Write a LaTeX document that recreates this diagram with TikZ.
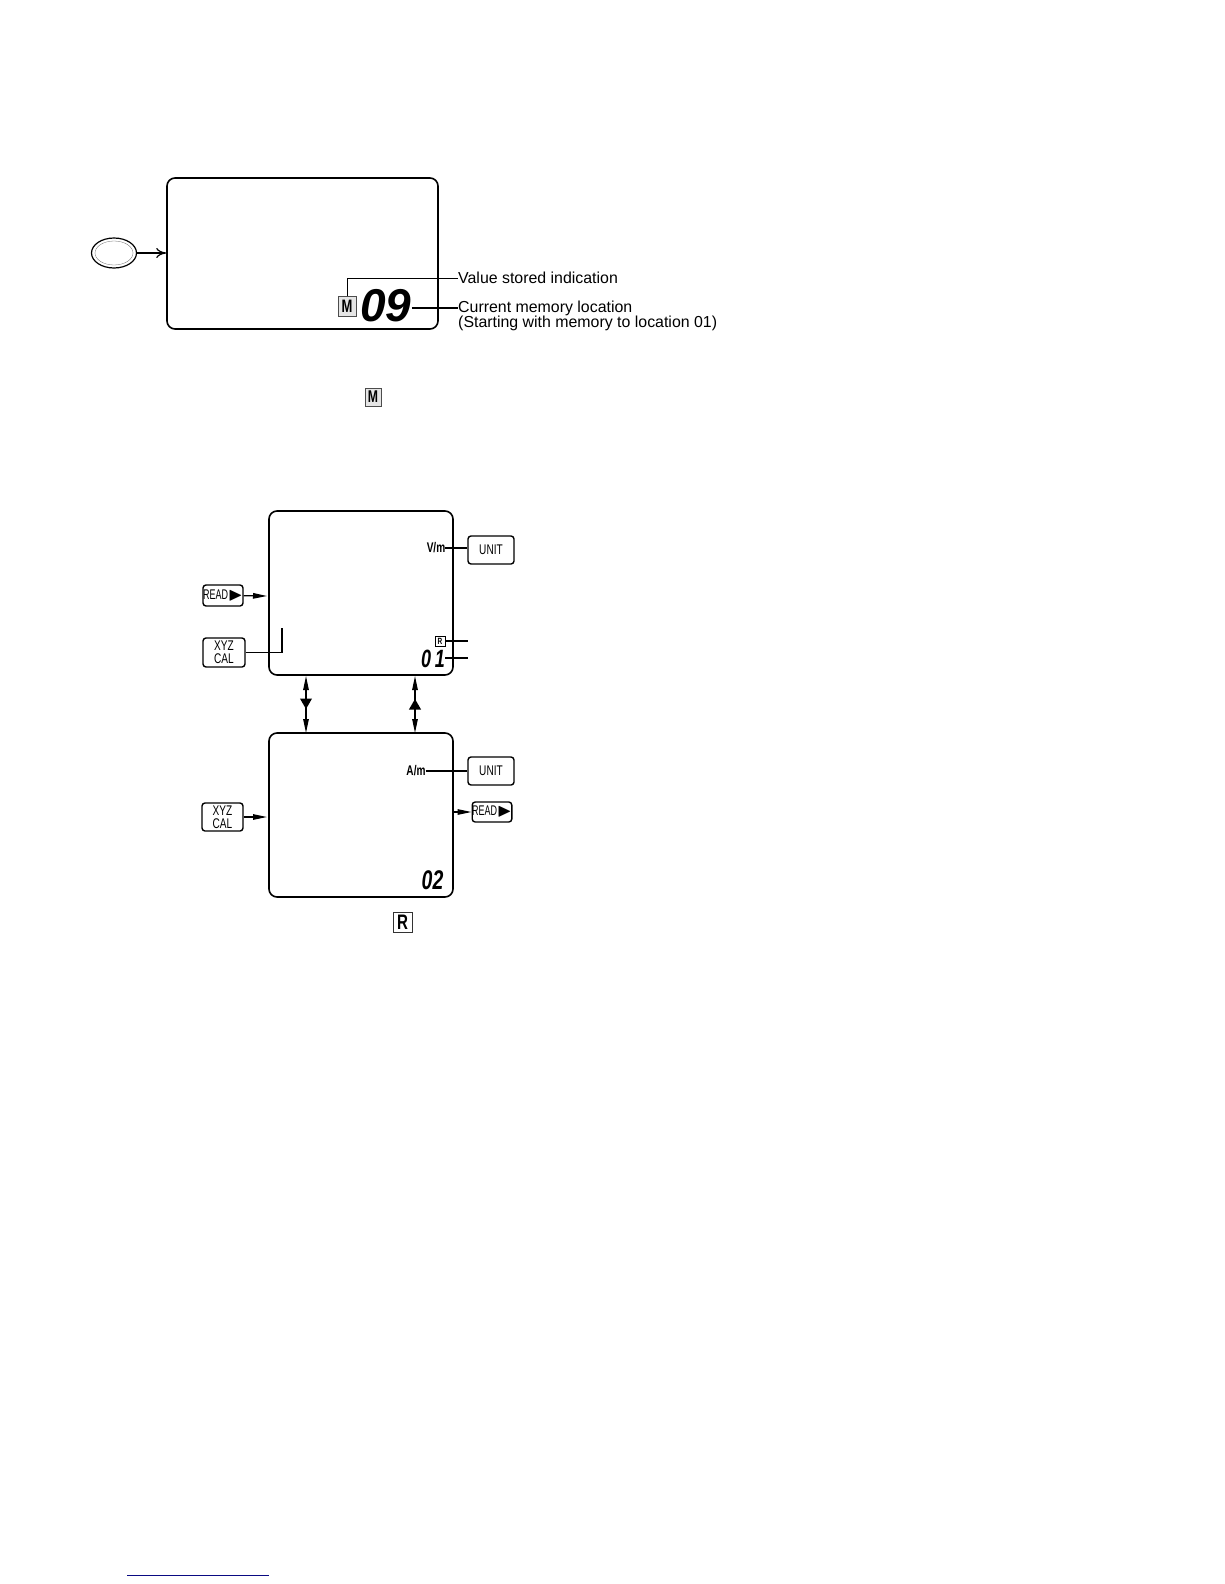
\documentclass[tikz,border=0pt]{standalone}
\usepackage{amssymb}
\usepackage{fontspec}
\setmainfont{Liberation Sans}
\usetikzlibrary{arrows.meta,shapes.geometric}
\newcommand{\narrowtxt}[1]{\scalebox{.72}[1]{#1}}
\newcommand{\readlabel}{\scalebox{.64}[1]{READ}\raisebox{-1pt}{\scalebox{1.35}{$\blacktriangleright$}}}
\definecolor{rulecol}{RGB}{10,10,130}
\tikzset{
  lcd/.style={draw,line width=1.6pt,rounded corners=8pt,inner sep=0pt},
  keybox/.style={draw,line width=1.4pt,rounded corners=3pt,inner sep=0pt,align=center,font=\fontsize{14}{13}\selectfont},
  lead/.style={line width=1.2pt},
  flag/.style={draw,line width=.8pt,inner sep=0pt,font=\bfseries},
  lcdnum/.style={inner sep=0pt,font=\bfseries\itshape},
  unitsign/.style={inner sep=0pt,font=\bfseries\fontsize{14}{14}\selectfont},
  note/.style={anchor=west,align=left,inner sep=0pt,font=\fontsize{15.9}{15}\selectfont},
  tridown/.style={regular polygon,regular polygon sides=3,shape border rotate=180,fill=black,inner sep=0pt,minimum size=14},
  triup/.style={regular polygon,regular polygon sides=3,fill=black,inner sep=0pt,minimum size=14}
}
\begin{document}
\begin{tikzpicture}[x=1pt,y=-1pt,>={Triangle[length=14pt,width=5.5pt]}]
\useasboundingbox (0,0) rectangle (1224,1584);
% top display
\node[lcd,minimum width=271,minimum height=151] (lcdtop) at (302.5,253.5) {};
\node[draw,ellipse,line width=1.2pt,minimum width=45,minimum height=30,inner sep=0pt] (oval) at (114,253) {};
\node[draw,ellipse,line width=.3pt,black!60,minimum width=38,minimum height=24,inner sep=0pt] (ovalin) at (114,253) {};
\draw[lead,-{To[length=10pt,width=10pt]}] (oval) -- (lcdtop.west |- oval);
\node[flag,fill=black!10,draw=black!70,minimum width=18,minimum height=20,font=\bfseries\fontsize{18}{18}\selectfont] (flagm) at (347,306) {\narrowtxt{M}};
\node[lcdnum,font=\bfseries\itshape\fontsize{46}{46}\selectfont] (digitsa) at (386,306) {09};
\node[note] (stored) at (458,278) {Value stored indication};
\node[note] (current) at (458,308) {Current memory location};
\node[note] (startwith) at (458,323) {(Starting with memory to location 01)};
\draw[line width=.8pt] (flagm.north) -- (flagm.north |- stored) -- (stored.west);
\draw[lead] (digitsa.east |- current) -- (current.west);
\node[flag,draw=black!70,fill=black!10,minimum width=16,minimum height=18,font=\bfseries\fontsize{17}{17}\selectfont] (flagn) at (373,397) {\narrowtxt{M}};
% upper display
\node[lcd,minimum width=184,minimum height=164] (lcdvm) at (361,593) {};
\node[unitsign] (vm) at (436,548) {\narrowtxt{V/m}};
\node[keybox,minimum width=46,minimum height=28] (unita) at (491,550) {\narrowtxt{UNIT}};
\draw[lead] (vm) -- (vm -| unita.west);
\node[keybox,minimum width=40,minimum height=21] (reada) at (223,595.5) {\readlabel};
\coordinate (readatip) at (267,596);
\draw[lead,->] (reada) -- (readatip);
\node[keybox,minimum width=42,minimum height=29] (xyza) at (224,652.5) {\narrowtxt{XYZ}\\\narrowtxt{CAL}};
\coordinate (xyzaup) at (282,628);
\draw[lead] (xyza.east) -| (xyzaup);
\node[flag,draw=black,minimum width=10,minimum height=10,font=\bfseries\fontsize{9}{9}\selectfont] (flagr) at (440,641) {\narrowtxt{R}};
\node[lcdnum,font=\bfseries\itshape\fontsize{25}{25}\selectfont] (digitsb) at (433,659) {\narrowtxt{0\hspace{5pt}1}};
\coordinate (flagrend) at (468,641);
\coordinate (digitsbend) at (468,658);
\draw[lead] (flagr) -- (flagrend);
\draw[lead] (digitsb.east |- digitsbend) -- (digitsbend);
% lower display
\node[lcd,minimum width=184,minimum height=164] (lcdam) at (361,815) {};
\node[unitsign] (am) at (416,771) {\narrowtxt{A/m}};
\node[keybox,minimum width=46,minimum height=28] (unitb) at (491,771) {\narrowtxt{UNIT}};
\draw[lead] (am) -- (unitb);
\node[keybox,minimum width=41,minimum height=28] (xyzb) at (222.5,817) {\narrowtxt{XYZ}\\\narrowtxt{CAL}};
\coordinate (xyzbtip) at (267,817);
\draw[lead,->] (xyzb) -- (xyzbtip);
\node[keybox,minimum width=38,minimum height=20] (readb) at (492,812) {\readlabel};
\coordinate (readbtail) at (452,812);
\draw[lead,->] (readbtail) -- (readb);
\node[lcdnum,font=\bfseries\itshape\fontsize{27}{27}\selectfont] (digitsc) at (432.5,880) {\narrowtxt{02}};
\node[flag,draw=black!80,line width=1pt,minimum width=19,minimum height=20,font=\bfseries\fontsize{21}{21}\selectfont] (flagq) at (402.5,922) {\narrowtxt{R}};
% arrows between the displays
\foreach \xa/\name in {306/left,415/right}
{
    \coordinate (\name top) at (\xa,676);
    \coordinate (\name bot) at (\xa,733);
    \draw[lead,<->] (\name top) -- (\name bot);
}
\node[tridown] (downtri) at (306,702) {};
\node[triup] (uptri) at (415,706) {};
% rule at the foot of the page
\coordinate (rulea) at (127,1575);
\coordinate (ruleb) at (269,1575);
\draw[rulecol,line width=1pt] (rulea) -- (ruleb);
\end{tikzpicture}
\end{document}
